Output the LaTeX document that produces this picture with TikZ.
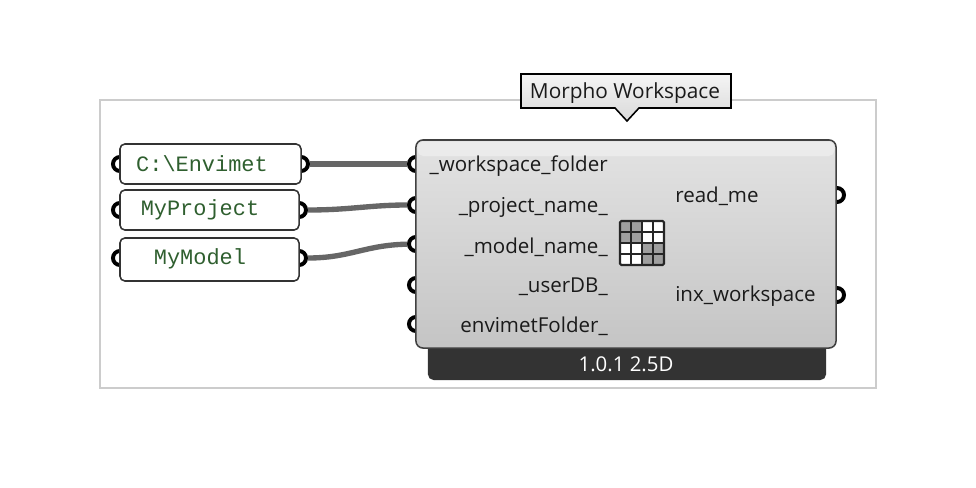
\documentclass[tikz,border=0pt]{standalone}
\usepackage{fontspec}
\setmainfont{Open Sans}
\setmonofont{Liberation Mono}
\usetikzlibrary{positioning,calc}
\definecolor{wiregray}{HTML}{666666}
\definecolor{framegray}{HTML}{CCCCCC}
\definecolor{footdark}{HTML}{333333}
\definecolor{paramgreen}{HTML}{2F5F2F}
\definecolor{labelink}{HTML}{1A1A1A}
\tikzset{
    parambox/.style={draw=black!80, line width=1.1pt, fill=white, rounded corners=3.5pt, inner sep=0pt},
    paramtext/.style={font=\ttfamily\fontsize{15.6}{17}\selectfont, text=paramgreen, inner sep=0pt},
    wire/.style={wiregray, line width=3.8pt},
    port/.style={circle, draw=black, line width=2.8pt, fill=white, minimum size=10pt, inner sep=0pt},
    inlabel/.style={anchor=east, inner sep=0pt, font=\fontsize{14.6}{16}\selectfont, text=labelink},
    outlabel/.style={anchor=west, inner sep=0pt, font=\fontsize{14.6}{16}\selectfont, text=labelink},
}
\begin{document}
\begin{tikzpicture}[x=0.025cm, y=-0.025cm]
    \useasboundingbox (0,0) rectangle (976,488);

    % Group frame
    \node[draw=framegray, line width=1.3pt, minimum width=19.4cm, minimum height=7.2cm, inner sep=0pt] (frame) at (488,244) {};

    % Ports
    \foreach \name/\px/\py in {pa/120/164, pb/120/210, pc/120/258,
        ra/301/164, rb/299/210, rc/299/258,
        ia/416/164, ib/416/205, ic/416/244, id/416/285, ie/416/324,
        oa/837/195, ob/837/295}
        \node[port] (\name) at (\px,\py) {};

    % Wires
    \draw[wire] (ra) -- (ia);
    \draw[wire] (rb) .. controls (350,210) and (370,205) .. (ib);
    \draw[wire] (rc) .. controls (350,258) and (365,245) .. (ic);

    % Footer
    \node[fill=footdark, rounded corners=4pt, minimum width=9.95cm, minimum height=1.1cm, inner sep=0pt] (footer) at (627,358) {};
    \node[text=white, font=\fontsize{14.5}{16}\selectfont, inner sep=0pt] (version) at (626,364) {1.0.1 2.5D};

    % Parameters
    \node[parambox, minimum width=4.525cm, minimum height=1cm] (envimet) at (210.5,164) {};
    \node[parambox, minimum width=4.475cm, minimum height=1cm] (project) at (209.5,210) {};
    \node[parambox, minimum width=4.475cm, minimum height=1.075cm] (model) at (209.5,259.5) {};
    \node[paramtext] (envimettext) at (202,163.5) {C:\textbackslash Envimet};
    \node[paramtext] (projecttext) at (200,210) {MyProject};
    \node[paramtext] (modeltext) at (200,259) {MyModel};

    % Component body
    \node[draw=black!75, line width=1.1pt, rounded corners=5pt, top color=black!11, bottom color=black!23,
        minimum width=10.5cm, minimum height=5.2cm, inner sep=0pt] (body) at (626,244) {};
    \fill[black!8, rounded corners=4pt] (417.5,141.5) -- (834.5,141.5) -- (834.5,156) -- (417.5,156) -- cycle;

    % Input and output labels
    \node[inlabel] (workspace) at (608,166) {\_workspace\_folder};
    \node[inlabel] (projectname) at (608,207) {\_project\_name\_};
    \node[inlabel] (modelname) at (608,247) {\_model\_name\_};
    \node[inlabel] (userdb) at (608,287) {\_userDB\_};
    \node[inlabel] (folder) at (608,326) {envimetFolder\_};
    \node[outlabel] (readme) at (675,196) {read\_me};
    \node[outlabel] (inx) at (675,296) {inx\_workspace};

    % Icon
    \foreach \ci/\cj/\shade in {0/0/gray,1/0/gray,0/1/gray,1/1/gray,2/0/white,3/0/white,2/1/white,3/1/white,
        0/2/white,1/2/white,0/3/white,1/3/white,2/2/gray,3/2/gray,2/3/gray,3/3/gray}
        \fill[\shade!75!white] ({620+\ci*11},{221+\cj*11}) rectangle ++(11,11);
    \draw[black!85, line width=1.5pt, rounded corners=1pt] (620,221) rectangle (664,265);
    \foreach \k in {1,2,3} {
        \draw[black!85, line width=1.5pt] ({620+\k*11},221) -- ({620+\k*11},265);
        \draw[black!85, line width=1.5pt] (620,{221+\k*11}) -- (664,{221+\k*11});
    }

    % Callout
    \draw[black, line width=1.1pt, top color=black!4, bottom color=black!15]
        (521,74) -- (731,74) -- (731,108) -- (639,108) -- (627,121) -- (615,108) -- (521,108) -- cycle;
    \node[font=\fontsize{14.8}{16}\selectfont, text=labelink, inner sep=0pt] (title) at (625,93.5) {Morpho Workspace};
\end{tikzpicture}
\end{document}
